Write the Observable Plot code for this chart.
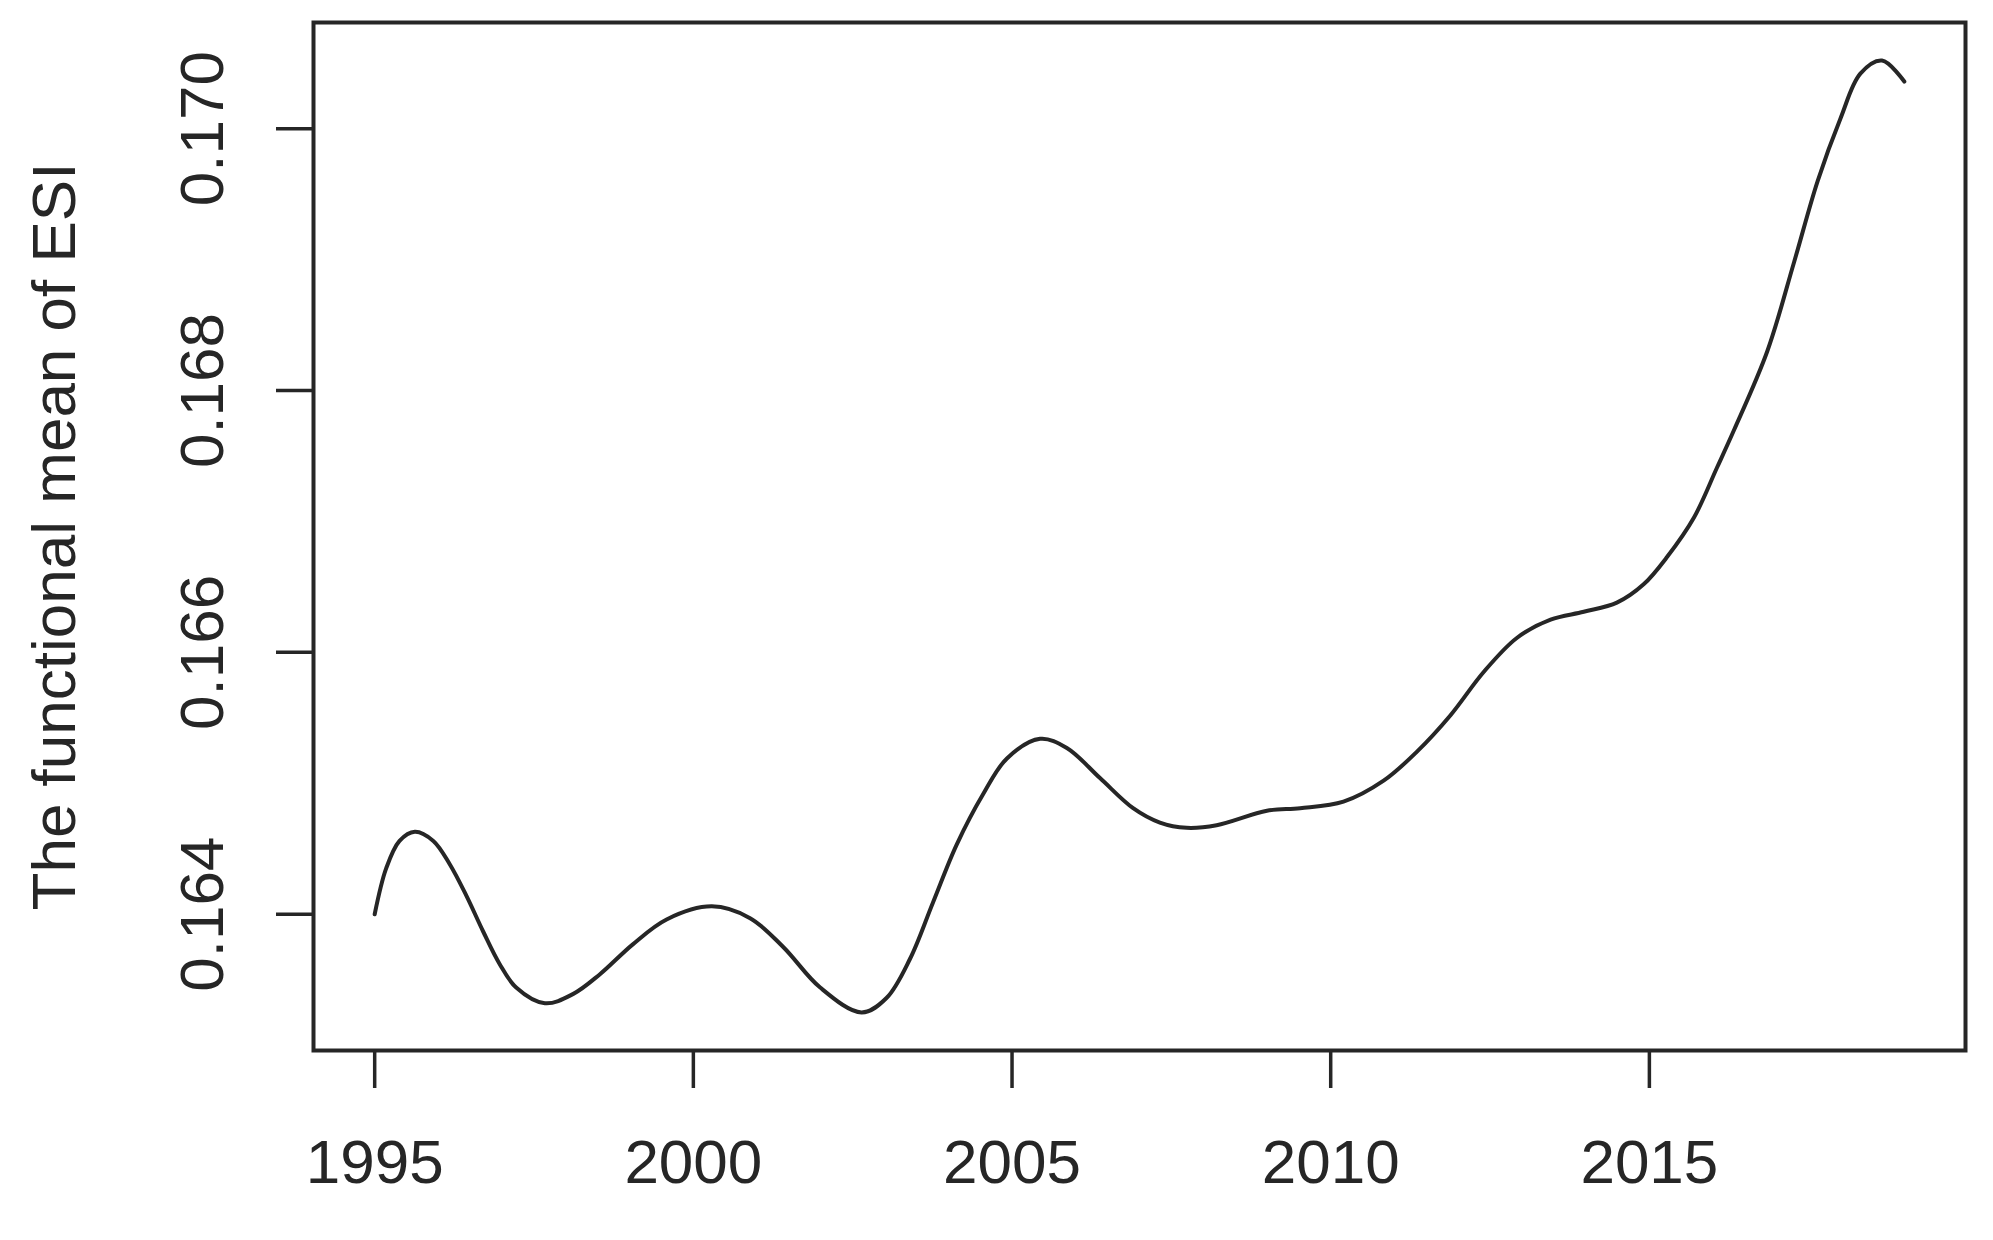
<!DOCTYPE html>
<html>
<head>
<meta charset="utf-8">
<script src="https://cdn.jsdelivr.net/npm/d3@7"></script>
<script src="https://cdn.jsdelivr.net/npm/@observablehq/plot@0.6"></script>
<style>
  html, body { margin: 0; padding: 0; background: #fff; }
  #chart svg { display: block; }
</style>
</head>
<body>
<div id="chart"></div>
<script>
// Values
const years = [1995, 1995.18, 1995.39, 1995.63, 1995.92, 1996.18, 1996.44, 1996.70, 1996.96, 1997.22,
  1997.67, 1998.11, 1998.53, 1999.05, 1999.58, 2000.29, 2000.89, 2001.41, 2001.99, 2002.64,
  2003.03, 2003.40, 2003.76, 2004.13, 2004.55, 2004.92, 2005.44, 2005.86, 2006.38, 2006.90,
  2007.32, 2007.74, 2008.21, 2009.00, 2009.52, 2010.20, 2010.83, 2011.35, 2011.88, 2012.40,
  2012.92, 2013.45, 2013.97, 2014.49, 2014.91, 2015.28, 2015.70, 2016.06, 2016.33, 2016.85,
  2017.27, 2017.64, 2018.00, 2018.31, 2018.65, 2019.00];
const esiMean = [0.16400, 0.16435, 0.16456, 0.16463, 0.16456, 0.16438, 0.16414, 0.16387, 0.16362, 0.16344,
  0.16332, 0.16339, 0.16354, 0.16377, 0.16396, 0.16406, 0.16397, 0.16375, 0.16344, 0.16325,
  0.16336, 0.16366, 0.16409, 0.16453, 0.16492, 0.16519, 0.16534, 0.16527, 0.16504, 0.16481,
  0.16470, 0.16466, 0.16468, 0.16479, 0.16481, 0.16486, 0.16502, 0.16524, 0.16552, 0.16585,
  0.16611, 0.16625, 0.16631, 0.16638, 0.16652, 0.16673, 0.16703, 0.16741, 0.16770, 0.16830,
  0.16898, 0.16960, 0.17008, 0.17042, 0.17052, 0.17036];
const xTicks = [1995, 2000, 2005, 2010, 2015];
const yTicks = [0.164, 0.166, 0.168, 0.170];
const yTickLabels = ["0.164", "0.166", "0.168", "0.170"];
const yTitle = "The functional mean of ESI";

const data = years.map((yr, i) => ({year: yr, value: esiMean[i]}));

// R-style 4% axis extension
const xr = d3.extent(years), yr = d3.extent(esiMean);
const xPad = (xr[1] - xr[0]) * 0.04, yPad = (yr[1] - yr[0]) * 0.04;

const ink = "#262626";
const font = "'Liberation Sans', Arial, Helvetica, sans-serif";

const chart = Plot.plot({
  width: 1993,
  height: 1240,
  marginLeft: 313,
  marginRight: 28,
  marginTop: 22,
  marginBottom: 190,
  style: {fontFamily: font, fontSize: "62px", color: ink, background: "#fff"},
  x: {domain: [xr[0] - xPad, xr[1] + xPad]},
  y: {domain: [yr[0] - yPad, yr[1] + yPad]},
  marks: [
    Plot.frame({stroke: ink, strokeWidth: 4}),
    Plot.axisX({ticks: xTicks, tickSize: 38, tickPadding: 50, tickFormat: d => String(d),
      label: null, stroke: ink, strokeWidth: 3.5, fill: ink, fontSize: 62}),
    Plot.axisY({ticks: yTicks, tickSize: 37, label: null, stroke: ink, strokeWidth: 3.5, fill: "none"}),
    Plot.text(yTicks, {y: d => d, text: (d, i) => yTickLabels[i], frameAnchor: "left", dx: -110,
      rotate: -90, textAnchor: "middle", lineAnchor: "middle", fontSize: 62, fill: ink}),
    Plot.text([yTitle], {text: d => d, frameAnchor: "left", dx: -258, rotate: -90,
      textAnchor: "middle", lineAnchor: "middle", fontSize: 62, fill: ink}),
    Plot.line(data, {x: "year", y: "value", curve: "catmull-rom", stroke: ink, strokeWidth: 4})
  ]
});
document.getElementById("chart").appendChild(chart);
</script>
</body>
</html>
